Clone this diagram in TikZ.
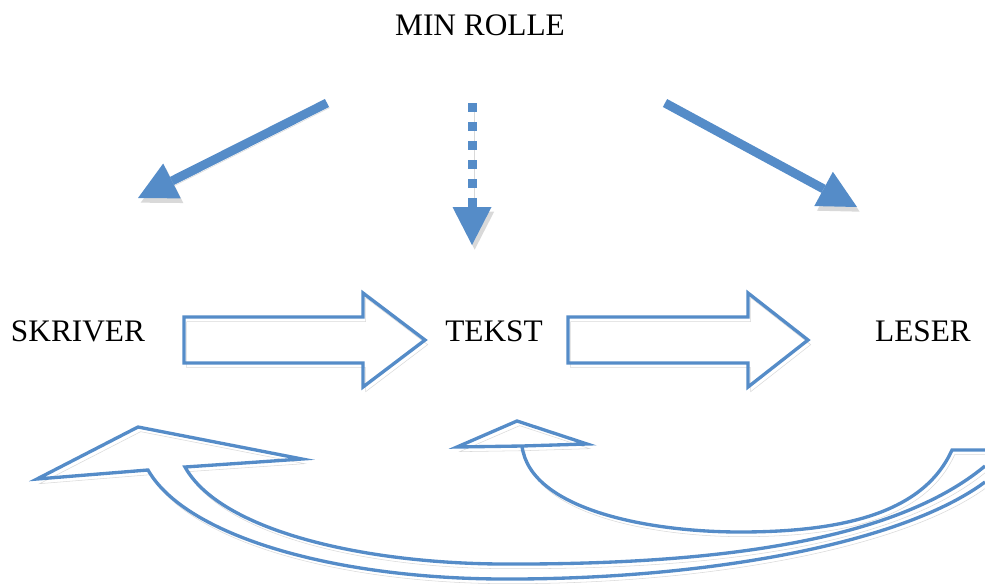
\documentclass[tikz,border=0pt]{standalone}
\usepackage{fontspec}
\setmainfont{Liberation Serif}
\usetikzlibrary{arrows.meta}
\definecolor{arrowblue}{RGB}{85,140,200}
\begin{document}
\begin{tikzpicture}[x=0.75pt,y=-0.75pt,
  lbl/.style={font=\fontsize{23.5}{28}\selectfont, anchor=base, inner sep=0pt},
  shd/.style={preaction={draw=black, draw opacity=.15, fill opacity=.15, transform canvas={shift={(2pt,-3.5pt)}}}},
  outline/.style={draw=arrowblue, line width=2.5pt, line join=miter, shd},
  solidarr/.style={draw=arrowblue, line width=6.75pt,
    -{Triangle[length=28.5pt, width=29.25pt, line width=0pt]}, shd},
  dotarr/.style={solidarr, dash pattern=on 6.75pt off 7.5pt},
]
\useasboundingbox (0,0) rectangle (985,586);

% labels
\node[lbl] (minrolle) at (480,35) {MIN ROLLE};
\node[lbl] (skriver) at (78,341) {SKRIVER};
\node[lbl] (tekst) at (494,341) {TEKST};
\node[lbl] (leser) at (923,341) {LESER};

% arrows from MIN ROLLE
\coordinate (a1s) at (327,103);
\coordinate (a1e) at (138,198);
\coordinate (a2s) at (472,103);
\coordinate (a2e) at (472,245);
\coordinate (a3s) at (665,103);
\coordinate (a3e) at (857,207);
\draw[solidarr] (a1s) -- (a1e);
\draw[dotarr] (a2s) -- (a2e);
\draw[solidarr] (a3s) -- (a3e);

% block arrows
\draw[outline] (184,317) -- (363,317) -- (363,293) -- (425,340) -- (363,387) -- (363,363) -- (184,363) -- cycle;
\draw[outline] (568,317) -- (748,317) -- (748,293) -- (808,340) -- (748,387) -- (748,363) -- (568,363) -- cycle;

% curved arrows
\begin{scope}
\clip (0,0) rectangle (985,586);
\draw[outline] (985,482) .. controls (900,545) and (700,580) .. (500,579)
  .. controls (330,578) and (185,535) .. (148,470)
  -- (37,479) -- (138,427) -- (302,459) -- (185,467)
  .. controls (220,530) and (360,563) .. (500,564)
  .. controls (700,565) and (890,545) .. (985,466);
\draw[outline] (985,450) -- (952,450)
  .. controls (925,510) and (850,532) .. (740,532)
  .. controls (650,532) and (530,510) .. (522,446)
  -- (587,444) -- (517,421) -- (457,447) -- (522,446);
\end{scope}
\end{tikzpicture}
\end{document}
